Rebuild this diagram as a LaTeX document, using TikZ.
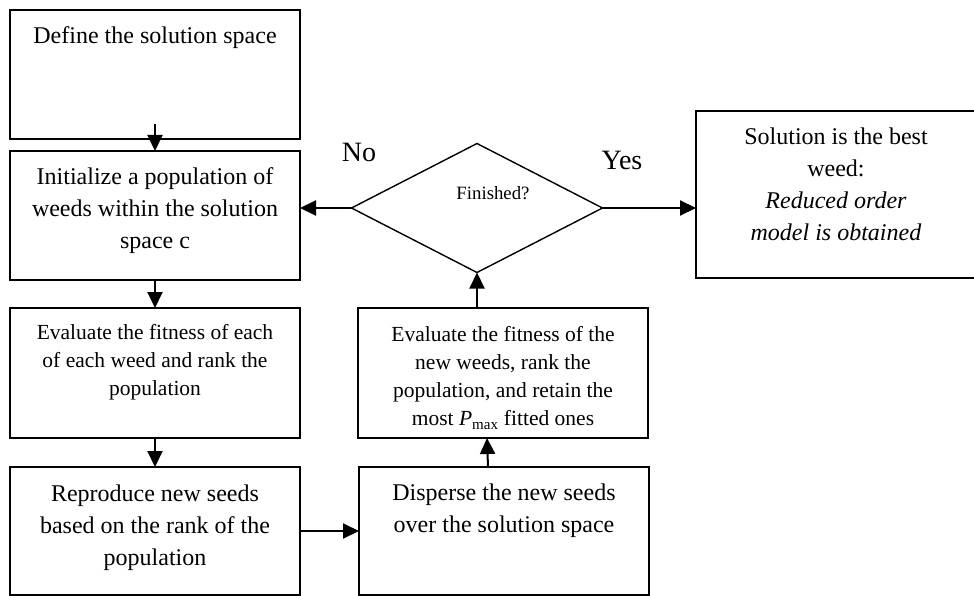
\documentclass[tikz,border=0pt]{standalone}
\usepackage{fontspec}
\setmainfont{Liberation Serif}
\usetikzlibrary{arrows.meta,shapes.geometric}

\begin{document}
\begin{tikzpicture}[x=1pt, y=-1pt,
    box/.style={draw, line width=2pt, minimum width=290pt, minimum height=129pt, inner sep=0pt, outer sep=0pt},
    decision/.style={diamond, draw, line width=1.4pt, minimum width=251pt, minimum height=129pt, inner sep=0pt, outer sep=0pt},
    txt/.style={align=center, font=\fontsize{24}{32}\selectfont},
    smalltxt/.style={align=center, font=\fontsize{21.5}{28}\selectfont},
    arr/.style={-{Triangle[length=16pt,width=15pt]}, line width=2pt}]
    \useasboundingbox (0,0) rectangle (974,596);
    % boxes
    \node[box] (define) at (155,74.5) {};
    \node[box] (init) at (155,215.5) {};
    \node[box, minimum height=130pt] (eval) at (155,373) {};
    \node[box, minimum height=128pt] (repro) at (155,531) {};
    \node[box, minimum height=128pt] (disperse) at (504,531) {};
    \node[box, minimum height=130pt] (evalnew) at (503,373) {};
    \node[decision] (finished) at (477,208) {};
    \node[box, minimum width=281pt, minimum height=167pt] (solution) at (836.5,194.5) {};
    % texts
    \node[txt] (definetext) at (155,38) {Define the solution space};
    \node[txt] (inittext) at (155,211) {Initialize a population of\\weeds within the solution\\space c};
    \node[smalltxt] (evaltext) at (155,362) {Evaluate the fitness of each\\of each weed and rank the\\population};
    \node[txt] (reprotext) at (155,528) {Reproduce new seeds\\based on the rank of the\\population};
    \node[txt] (dispersetext) at (504,511) {Disperse the new seeds\\over the solution space};
    \node[smalltxt] (evalnewtext) at (503,378) {Evaluate the fitness of the\\new weeds, rank the\\population, and retain the\\most \textit{P}\textsubscript{max} fitted ones};
    \node[txt] (solutiontext) at (836,184) {Solution is the best\\weed:\\\textit{Reduced order}\\\textit{model is obtained}};
    \node[font=\fontsize{18.8}{22}\selectfont] (finishedtext) at (493,193) {Finished?};
    \node[font=\fontsize{28}{32}\selectfont] (no) at (359,152) {No};
    \node[font=\fontsize{28}{32}\selectfont] (yes) at (622,160) {Yes};
    % arrows
    \draw[arr] ([yshift=15pt]define.south) -- (init.north);
    \draw[arr] (init) -- (eval);
    \draw[arr] (eval) -- (repro);
    \draw[arr] (repro) -- (disperse);
    \draw[arr] ([xshift=-16pt]disperse.north) -- ([xshift=-16pt]evalnew.south);
    \draw[arr] (evalnew.north -| finished.south) -- (finished.south);
    \draw[arr] (finished.west) -- (finished.west -| init.east);
    \draw[arr] (finished.east) -- (finished.east -| solution.west);
\end{tikzpicture}
\end{document}
